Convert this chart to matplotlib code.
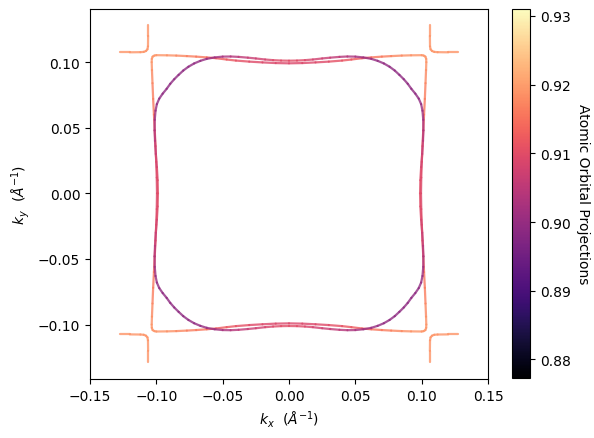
import numpy as np
import matplotlib
matplotlib.use('Agg')
import matplotlib.pyplot as plt
from matplotlib.collections import LineCollection
from matplotlib.colors import Normalize

# first-quadrant points of each Fermi contour (kx, ky) and their projections
inner_kx = [0.0988, 0.0990, 0.0996, 0.1004, 0.1010, 0.1013, 0.1012, 0.1006, 0.0996,
            0.0978, 0.0952, 0.0922, 0.0895, 0.0865, 0.0832, 0.0797, 0.0758, 0.0715,
            0.0668, 0.0620, 0.0560, 0.0500, 0.0440, 0.0380, 0.0310, 0.0250, 0.0180,
            0.0120, 0.0060, 0.0000]
inner_ky = [0.0000, 0.0100, 0.0200, 0.0300, 0.0400, 0.0480, 0.0560, 0.0630, 0.0680,
            0.0722, 0.0760, 0.0797, 0.0835, 0.0870, 0.0903, 0.0936, 0.0965, 0.0990,
            0.1010, 0.1025, 0.1036, 0.1042, 0.1043, 0.1040, 0.1034, 0.1028, 0.1020,
            0.1015, 0.1012, 0.1011]
inner_proj = [0.910, 0.910, 0.909, 0.907, 0.905, 0.903, 0.902, 0.900, 0.8995,
              0.899, 0.899, 0.899, 0.899, 0.899, 0.899, 0.899, 0.899, 0.8995,
              0.8995, 0.900, 0.901, 0.902, 0.903, 0.905, 0.906, 0.907, 0.908,
              0.909, 0.910, 0.910]

outer_kx = [0.0995, 0.0997, 0.1001, 0.1006, 0.1012, 0.1018, 0.1024, 0.1029, 0.1033,
            0.1035, 0.1034, 0.1028, 0.1015, 0.1000, 0.0920, 0.0850, 0.0770, 0.0700,
            0.0620, 0.0550, 0.0470, 0.0400, 0.0300, 0.0200, 0.0100, 0.0000]
outer_ky = [0.0000, 0.0120, 0.0240, 0.0360, 0.0480, 0.0600, 0.0720, 0.0840, 0.0940,
            0.1000, 0.1025, 0.1042, 0.1050, 0.1053, 0.1052, 0.1050, 0.1046, 0.1042,
            0.1036, 0.1030, 0.1020, 0.1012, 0.1004, 0.0998, 0.0993, 0.0991]
outer_proj = [0.909, 0.909, 0.910, 0.911, 0.913, 0.915, 0.916, 0.917, 0.918,
              0.919, 0.919, 0.919, 0.919, 0.919, 0.919, 0.918, 0.917, 0.916,
              0.915, 0.913, 0.912, 0.911, 0.910, 0.909, 0.909, 0.909]

corner_kx = [0.1275, 0.1200, 0.1120, 0.1095, 0.1078, 0.1067, 0.1063, 0.1062, 0.1062]
corner_ky = [0.1075, 0.1075, 0.1076, 0.1078, 0.1085, 0.1098, 0.1120, 0.1200, 0.1285]
corner_proj = [0.919, 0.919, 0.919, 0.919, 0.919, 0.919, 0.919, 0.919, 0.919]

vmin, vmax = 0.8773, 0.931


def segments(kx, ky, proj):
    segs, vals = [], []
    kx = np.array(kx)
    ky = np.array(ky)
    proj = np.array(proj)
    for sx in (1, -1):
        for sy in (1, -1):
            pts = np.column_stack([sx * kx, sy * ky])
            for i in range(len(pts) - 1):
                segs.append(pts[i:i + 2])
                vals.append((proj[i] + proj[i + 1]) / 2)
    return segs, vals


fig = plt.figure(figsize=(5.94, 4.39), dpi=100)
ax = fig.add_axes([90 / 594, 59 / 439, 398 / 594, 370 / 439])
cax = fig.add_axes([512 / 594, 60 / 439, 18 / 594, 369 / 439])

norm = Normalize(vmin=vmin, vmax=vmax)
for kx, ky, proj in [(outer_kx, outer_ky, outer_proj),
                     (inner_kx, inner_ky, inner_proj),
                     (corner_kx, corner_ky, corner_proj)]:
    segs, vals = segments(kx, ky, proj)
    lc = LineCollection(segs, cmap='magma', norm=norm, linewidths=1.6, alpha=0.8,
                        capstyle='round', joinstyle='round')
    lc.set_array(np.array(vals))
    ax.add_collection(lc)

ax.set_xlim(-0.15, 0.15)
ax.set_ylim(-0.1415, 0.1405)
ax.set_xticks([-0.15, -0.10, -0.05, 0.00, 0.05, 0.10, 0.15])
ax.set_yticks([-0.10, -0.05, 0.00, 0.05, 0.10])
ax.set_xlabel(r'$k_x$  ($\AA^{-1}$)')
ax.set_ylabel(r'$k_y$  ($\AA^{-1}$)')

sm = plt.cm.ScalarMappable(norm=norm, cmap='magma')
cb = fig.colorbar(sm, cax=cax)
cb.set_label('Atomic Orbital Projections', rotation=270, labelpad=14)
cb.set_ticks([0.88, 0.89, 0.90, 0.91, 0.92, 0.93])

fig.savefig('out.png', dpi=100)
